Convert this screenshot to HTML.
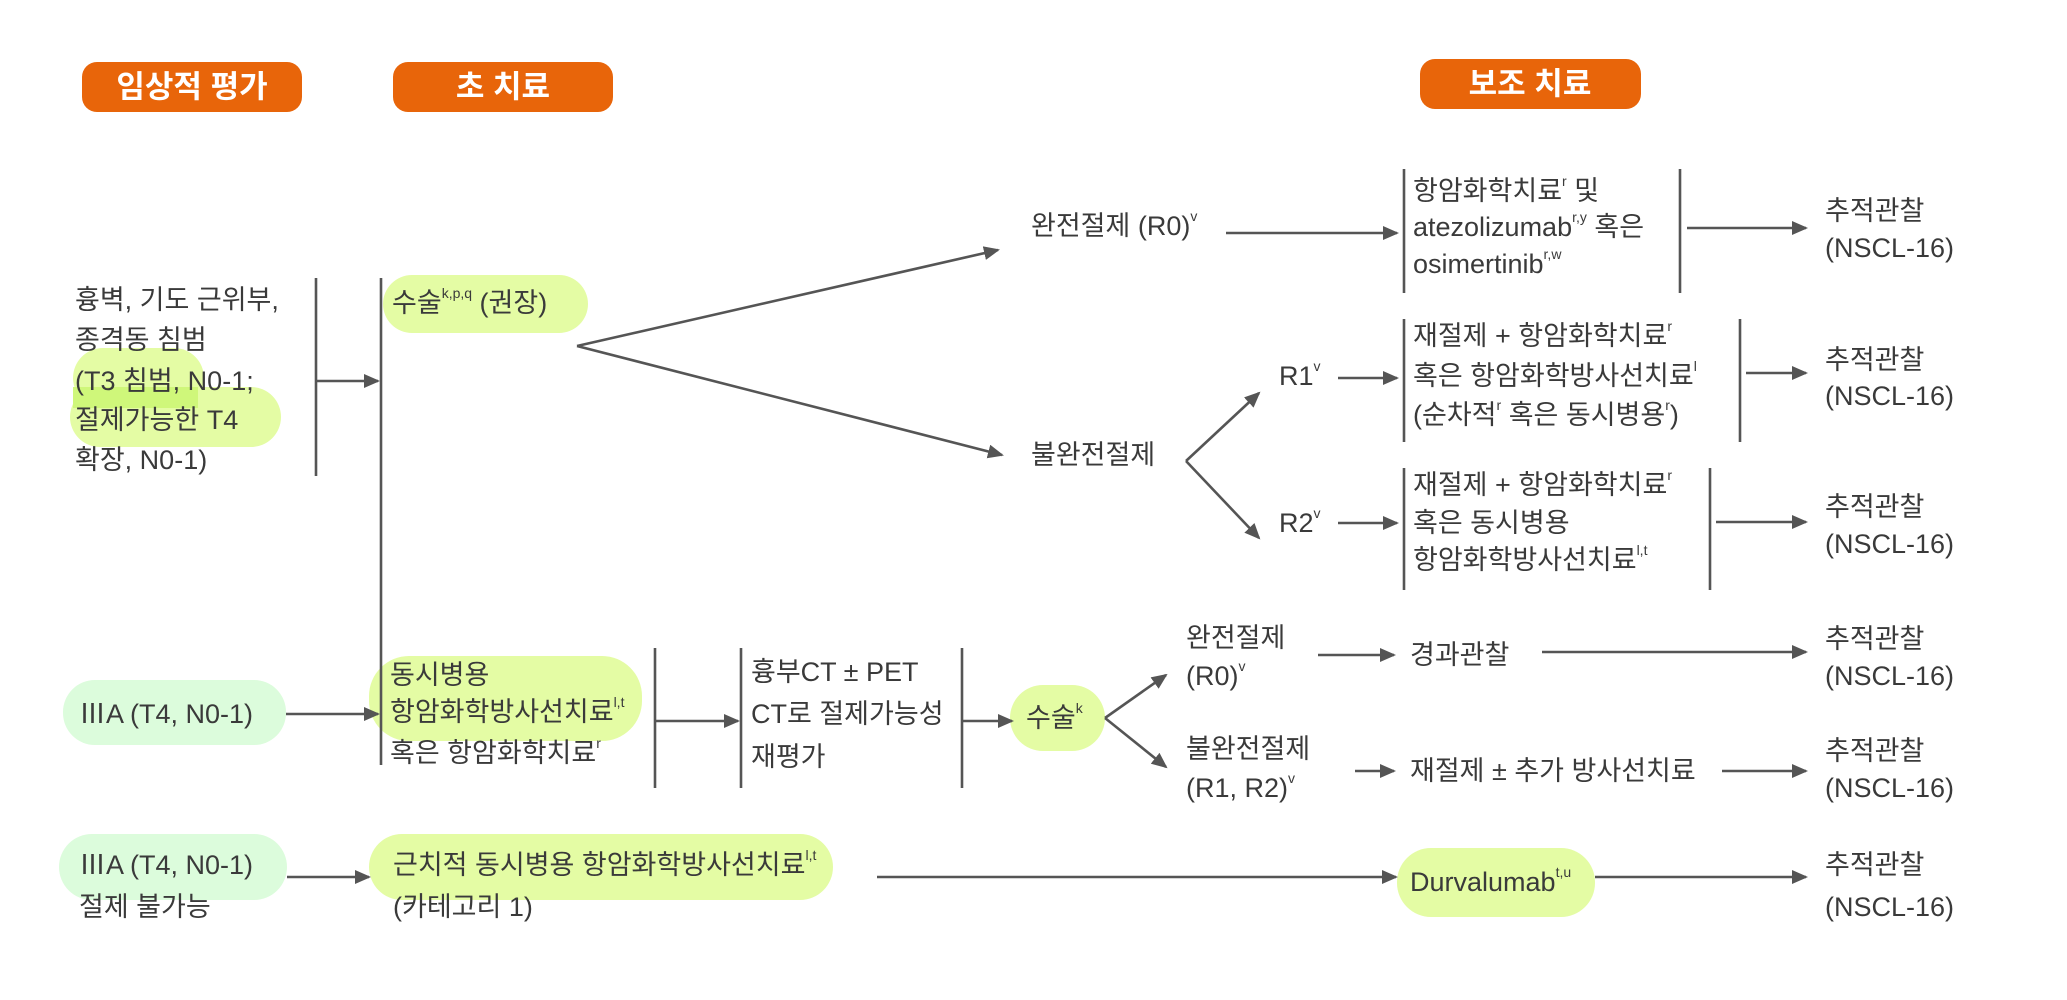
<!DOCTYPE html>
<html><head><meta charset="utf-8"><style>
html,body{margin:0;padding:0;background:#fff;}
svg{display:block;}
text{font-family:"Liberation Sans","Noto Sans CJK KR",sans-serif;font-size:27px;fill:#3a3a3a;dominant-baseline:central;}
.h{fill:#fff;font-size:31px;font-weight:bold;text-anchor:middle;}
.s{font-size:14px;}
line,polyline{stroke:#555;stroke-width:2.6;fill:none;}
</style></head><body>
<svg width="2067" height="1000" viewBox="0 0 2067 1000" xmlns="http://www.w3.org/2000/svg">
<defs><marker id="a" markerWidth="16" markerHeight="14" refX="14" refY="7" orient="auto" markerUnits="userSpaceOnUse"><path d="M0,0 L16,7 L0,14 z" fill="#555"/></marker></defs>

<rect x="82" y="62" width="220" height="50" rx="15" fill="#e8650a"/><text class="h" x="192" y="87">임상적 평가</text>
<rect x="393" y="62" width="220" height="50" rx="15" fill="#e8650a"/><text class="h" x="503" y="87">초 치료</text>
<rect x="1420" y="59" width="221" height="50" rx="15" fill="#e8650a"/><text class="h" x="1530" y="84">보조 치료</text>

<rect x="73" y="348" width="131" height="60" rx="30" fill="#e4fca4"/>
<rect x="70" y="387" width="211" height="60" rx="30" fill="#e4fca4"/>
<rect x="73" y="387" width="125" height="21" fill="#cff77a"/>
<rect x="383" y="275" width="205" height="58" rx="29" fill="#e4fca4"/>
<rect x="63" y="680" width="223" height="65" rx="32" fill="#dcfcdc"/>
<rect x="369" y="656" width="273" height="85" rx="40" fill="#e4fca4"/>
<rect x="1010" y="685" width="95" height="66" rx="33" fill="#e4fca4"/>
<rect x="59" y="834" width="228" height="66" rx="33" fill="#dcfcdc"/>
<rect x="369" y="834" width="464" height="66" rx="33" fill="#e4fca4"/>
<rect x="1397" y="848" width="198" height="69" rx="34" fill="#e4fca4"/>

<text x="75" y="300">흉벽, 기도 근위부,</text>
<text x="75" y="340">종격동 침범</text>
<text x="75" y="381">(T3 침범, N0-1;</text>
<text x="75" y="420">절제가능한 T4</text>
<text x="75" y="460">확장, N0-1)</text>
<line x1="316" y1="278" x2="316" y2="476"/>
<line x1="316" y1="381" x2="378" y2="381" marker-end="url(#a)"/>
<line x1="381" y1="278" x2="381" y2="765"/>
<text x="392" y="303">수술<tspan class="s" dy="-10">k,p,q</tspan><tspan dy="10"> (권장)</tspan></text>
<line x1="577" y1="346" x2="998" y2="250" marker-end="url(#a)"/>
<line x1="577" y1="346" x2="1002" y2="455" marker-end="url(#a)"/>

<text x="1031" y="226">완전절제 (R0)<tspan class="s" dy="-10">v</tspan></text>
<line x1="1226" y1="233" x2="1397" y2="233" marker-end="url(#a)"/>
<line x1="1404" y1="169" x2="1404" y2="293"/>
<text x="1413" y="191">항암화학치료<tspan class="s" dy="-10">r</tspan><tspan dy="10"> 및</tspan></text>
<text x="1413" y="227">atezolizumab<tspan class="s" dy="-10">r,y</tspan><tspan dy="10"> 혹은</tspan></text>
<text x="1413" y="264">osimertinib<tspan class="s" dy="-10">r,w</tspan></text>
<line x1="1680" y1="169" x2="1680" y2="293"/>
<line x1="1687" y1="228" x2="1806" y2="228" marker-end="url(#a)"/>
<text x="1825" y="211">추적관찰</text><text x="1825" y="248">(NSCL-16)</text>

<text x="1031" y="455">불완전절제</text>
<line x1="1186" y1="461" x2="1259" y2="393" marker-end="url(#a)"/>
<line x1="1186" y1="461" x2="1259" y2="538" marker-end="url(#a)"/>
<text x="1279" y="376">R1<tspan class="s" dy="-10">v</tspan></text>
<line x1="1338" y1="378" x2="1397" y2="378" marker-end="url(#a)"/>
<line x1="1404" y1="319" x2="1404" y2="442"/>
<text x="1413" y="336">재절제 + 항암화학치료<tspan class="s" dy="-10">r</tspan></text>
<text x="1413" y="376">혹은 항암화학방사선치료<tspan class="s" dy="-10">l</tspan></text>
<text x="1413" y="415">(순차적<tspan class="s" dy="-10">r</tspan><tspan dy="10"> 혹은 동시병용</tspan><tspan class="s" dy="-10">r</tspan><tspan dy="10">)</tspan></text>
<line x1="1740" y1="319" x2="1740" y2="442"/>
<line x1="1746" y1="373" x2="1806" y2="373" marker-end="url(#a)"/>
<text x="1825" y="360">추적관찰</text><text x="1825" y="396">(NSCL-16)</text>

<text x="1279" y="523">R2<tspan class="s" dy="-10">v</tspan></text>
<line x1="1338" y1="523" x2="1397" y2="523" marker-end="url(#a)"/>
<line x1="1404" y1="468" x2="1404" y2="590"/>
<text x="1413" y="485">재절제 + 항암화학치료<tspan class="s" dy="-10">r</tspan></text>
<text x="1413" y="523">혹은 동시병용</text>
<text x="1413" y="560">항암화학방사선치료<tspan class="s" dy="-10">l,t</tspan></text>
<line x1="1710" y1="468" x2="1710" y2="590"/>
<line x1="1716" y1="522" x2="1806" y2="522" marker-end="url(#a)"/>
<text x="1825" y="507">추적관찰</text><text x="1825" y="544">(NSCL-16)</text>

<text x="79" y="714">ⅢA (T4, N0-1)</text>
<line x1="286" y1="714" x2="378" y2="714" marker-end="url(#a)"/>
<text x="390" y="675">동시병용</text>
<text x="390" y="712">항암화학방사선치료<tspan class="s" dy="-10">l,t</tspan></text>
<text x="390" y="753">혹은 항암화학치료<tspan class="s" dy="-10">r</tspan></text>
<line x1="655" y1="648" x2="655" y2="788"/>
<line x1="655" y1="721" x2="738" y2="721" marker-end="url(#a)"/>
<line x1="741" y1="648" x2="741" y2="788"/>
<text x="751" y="672">흉부CT ± PET</text>
<text x="751" y="714">CT로 절제가능성</text>
<text x="751" y="757">재평가</text>
<line x1="962" y1="648" x2="962" y2="788"/>
<line x1="962" y1="721" x2="1012" y2="721" marker-end="url(#a)"/>
<text x="1026" y="718">수술<tspan class="s" dy="-10">k</tspan></text>
<line x1="1105" y1="718" x2="1166" y2="675" marker-end="url(#a)"/>
<line x1="1105" y1="718" x2="1166" y2="767" marker-end="url(#a)"/>
<text x="1186" y="638">완전절제</text>
<text x="1186" y="676">(R0)<tspan class="s" dy="-10">v</tspan></text>
<line x1="1318" y1="655" x2="1394" y2="655" marker-end="url(#a)"/>
<text x="1410" y="655">경과관찰</text>
<line x1="1542" y1="652" x2="1806" y2="652" marker-end="url(#a)"/>
<text x="1825" y="639">추적관찰</text><text x="1825" y="676">(NSCL-16)</text>
<text x="1186" y="749">불완전절제</text>
<text x="1186" y="788">(R1, R2)<tspan class="s" dy="-10">v</tspan></text>
<line x1="1355" y1="771" x2="1394" y2="771" marker-end="url(#a)"/>
<text x="1410" y="771">재절제 ± 추가 방사선치료</text>
<line x1="1722" y1="771" x2="1806" y2="771" marker-end="url(#a)"/>
<text x="1825" y="751">추적관찰</text><text x="1825" y="788">(NSCL-16)</text>

<text x="79" y="865">ⅢA (T4, N0-1)</text>
<text x="79" y="907">절제 불가능</text>
<line x1="287" y1="877" x2="369" y2="877" marker-end="url(#a)"/>
<text x="393" y="865">근치적 동시병용 항암화학방사선치료<tspan class="s" dy="-10">l,t</tspan></text>
<text x="393" y="907">(카테고리 1)</text>
<line x1="877" y1="877" x2="1396" y2="877" marker-end="url(#a)"/>
<text x="1410" y="882">Durvalumab<tspan class="s" dy="-10">t,u</tspan></text>
<line x1="1595" y1="877" x2="1806" y2="877" marker-end="url(#a)"/>
<text x="1825" y="865">추적관찰</text><text x="1825" y="907">(NSCL-16)</text>
</svg>
</body></html>
